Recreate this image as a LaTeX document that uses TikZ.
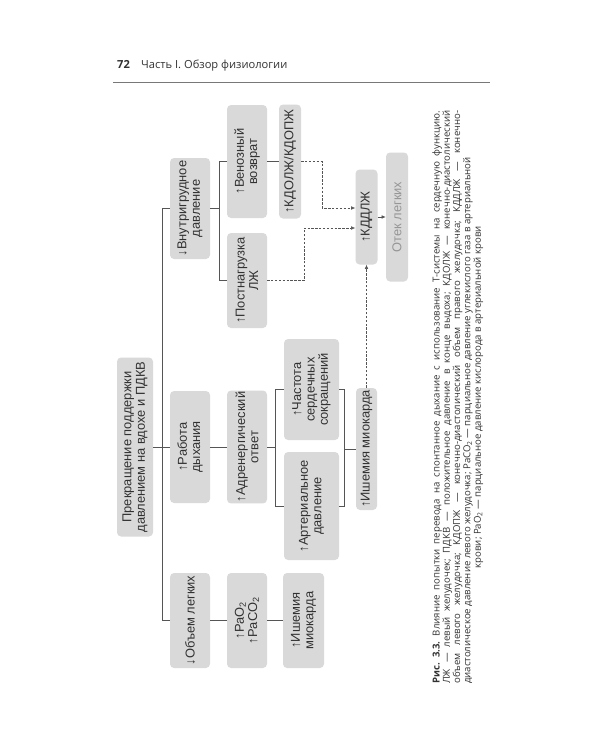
\documentclass[tikz,border=0pt]{standalone}
\usepackage{fontspec}
\setmainfont{Liberation Sans}
\newfontfamily\boxfont{Liberation Sans}
\newfontfamily\pagefont{Open Sans}
\usetikzlibrary{arrows.meta,calc}

\definecolor{ink}{RGB}{50,50,50}
\definecolor{boxfill}{RGB}{217,217,217}
\definecolor{wire}{RGB}{85,85,85}
\definecolor{muted}{RGB}{150,150,150}
\definecolor{rulegray}{RGB}{120,120,120}

\tikzset{
    box/.style={
        rectangle,
        rounded corners=3.5pt,
        fill=boxfill,
        text=ink,
        rotate=90,
        align=center,
        inner sep=1pt,
        font=\boxfont\fontsize{11}{11.4}\selectfont
    },
    boxsize/.style 2 args={minimum width=#1*0.03cm, minimum height=#2*0.03cm},
    faded/.style={box, text=muted},
    link/.style={draw=wire, line width=0.5pt},
    feed/.style={
        draw=wire,
        line width=0.45pt,
        dash pattern=on 2pt off 1.3pt,
        -{Latex[length=3.5pt,width=3pt]}
    },
    push/.style={draw=wire, line width=0.5pt, -{Latex[length=3.5pt,width=3pt]}},
    header/.style={font=\pagefont\fontsize{9.5}{11}\selectfont, text=ink, inner sep=0pt},
    caption/.style={
        rotate=90,
        inner sep=0pt,
        text=ink,
        text width=573*0.03cm,
        align=justify,
        font=\pagefont\fontsize{8.2}{8.8}\selectfont
    }
}

\begin{document}
\begin{tikzpicture}[x=0.03cm, y=-0.03cm]

\path[fill=white] (0,0) rectangle (600,750);

% page head
\node[header, anchor=base west] (pnum) at (117,68) {\bfseries 72};
\node[header, anchor=base west] (ptitle) at (141,68) {Часть I. Обзор физиологии};
\draw[rulegray, line width=0.6pt] (113,82) -- (490,82);

% tree (turned on the page)
\node[box, boxsize={179}{36}] (root) at (135,447) {Прекращение поддержки\\давлением на вдохе и ПДКВ};

\node[box, boxsize={101}{40}] (vnut) at (190,208.5) {↓Внутригрудное\\давление};
\node[box, boxsize={112}{40}] (rabota) at (190,447) {↑Работа\\дыхания};
\node[box, boxsize={95}{40}] (obem) at (190,620.5) {↓Объем легких};

\node[box, boxsize={113}{40}] (venoz) at (247,161.5) {↑Венозный\\возврат};
\node[box, boxsize={95}{40}] (postn) at (247,280.5) {↑Постнагрузка\\ЛЖ};
\node[box, boxsize={112}{40}] (adren) at (247,447) {↑Адренергический\\ответ};
\node[box, boxsize={95}{40}] (pao) at (247,620.5) {↑PaO\textsubscript{2}\\↑PaCO\textsubscript{2}};

\node[box, boxsize={114}{22}] (kdolzh) at (290,161.5) {↑КДОЛЖ/КДОПЖ};
\node[box, boxsize={101}{55}] (chast) at (311.5,389.5) {↑Частота\\сердечных\\сокращений};
\node[box, boxsize={108}{55}] (art) at (311.5,506) {↑Артериальное\\давление};
\node[box, boxsize={95}{41}] (ishem2) at (303.5,620.5) {↑Ишемия\\миокарда};

\node[box, boxsize={122}{21}] (ishem1) at (366.5,449) {↑Ишемия миокарда};
\node[box, boxsize={95}{22}] (kddlzh) at (366.5,217) {↑КДДЛЖ};
\node[faded, boxsize={129}{22}] (otek) at (397,217) {Отек легких};

% solid links
\draw[link] (root.south) -- (rabota.north);
\coordinate (trunk) at ($(root.south)+(9,0)$);
\draw[link] (vnut.north) -| (trunk) |- (obem.north);

\draw[link] (vnut.south) -- ++(9,0) coordinate (b1);
\draw[link] (venoz.north) -| (b1) |- (postn.north);
\draw[link] (venoz.south) -- (kdolzh.north);

\draw[link] (rabota.south) -- (adren.north);
\draw[link] (adren.south) -- ++(8,0) coordinate (b2);
\draw[link] (chast.north) -| (b2) |- (art.north);

\coordinate (b3) at ($(ishem1.north)+(-11,0)$);
\draw[link] (chast.south) -| (b3) -- (ishem1.north);
\draw[link] (art.south) -| (b3);

\draw[link] (obem.south) -- (pao.north);
\draw[link] (pao.south) -- (ishem2.north);

% dashed feeds into KDDLZh
\draw[feed] (kdolzh.south) -- ++(21,0) |- ($(kddlzh.north)+(0,-9)$);
\draw[feed] (postn.south) -- ++(37,0) |- ($(kddlzh.north)+(0,11)$);
\draw[feed] (ishem1.east) -- (kddlzh.west);
\draw[push] (kddlzh.south) -- (otek.north);

% caption
\node[caption, anchor=north west] (cap) at (432,684) {\tolerance=9999 \hyphenpenalty=10000 \frenchspacing
{\bfseries Рис. 3.3.} Влияние попытки перевода на спонтанное дыхание с использование Т-системы на сердечную функцию.\linebreak
ЛЖ — левый желудочек; ПДКВ — положительное давление в конце выдоха; КДОЛЖ — конечно-диастолический\linebreak
объем левого желудочка; КДОПЖ — конечно-диастолический объем правого желудочка; КДДЛЖ — конечно-\linebreak
диастолическое давление левого желудочка; PaCO\textsubscript{2} — парциальное давление углекислого газа в артериальной\par
\centering крови; PaO\textsubscript{2} — парциальное давление кислорода в артериальной крови\par};

\end{tikzpicture}
\end{document}
